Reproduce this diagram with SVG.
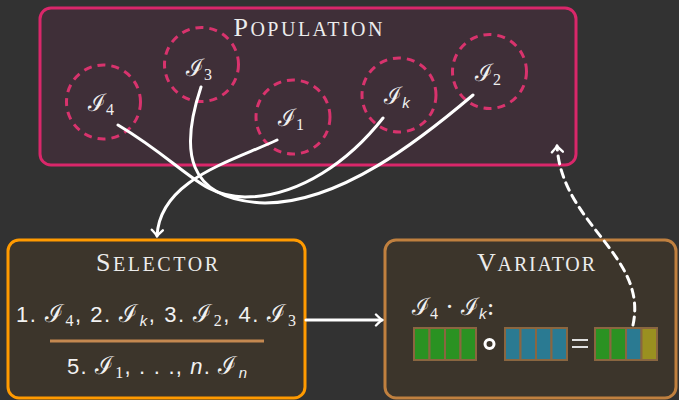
<svg xmlns="http://www.w3.org/2000/svg" width="679" height="400" viewBox="0 0 679 400">
<defs>
<style>
.sc{font-family:"Liberation Serif","DejaVu Serif",serif;fill:#ececec;}
.cal{font-family:"DejaVu Serif","Liberation Serif",serif;font-size:25px;}
.sans{font-family:"Liberation Sans","DejaVu Sans",sans-serif;fill:#f2f2f2;}
.sub{font-family:"Liberation Serif",serif;font-style:normal;}
.subi{font-family:"Liberation Sans",sans-serif;font-style:italic;}
.lbl{font-family:"DejaVu Serif","Liberation Serif",serif;fill:#f0f0f0;font-size:24px;}
.ind{fill:none;stroke:#d8336d;stroke-width:3;stroke-dasharray:8 6;}
.con{fill:none;stroke:#ffffff;stroke-width:3;stroke-linecap:round;}
.cellg{fill:#2a9222;stroke:#8a6640;stroke-width:2;}
.cellb{fill:#2a7a92;stroke:#8a6640;stroke-width:2;}
.cello{fill:#9a9020;stroke:#8a6640;stroke-width:2;}
</style>
<marker id="arr" viewBox="-8 -7 10 14" markerWidth="10" markerHeight="14" refX="0" refY="0" orient="auto" markerUnits="userSpaceOnUse">
<path d="M-6,-5.5 Q-1.5,-1 0,0 Q-1.5,1 -6,5.5" fill="none" stroke="#ffffff" stroke-width="2.4" stroke-linecap="round"/>
</marker>
</defs>
<rect width="679" height="400" fill="#323232"/>

<g id="population">
<rect x="40" y="8" width="536" height="157" rx="11" fill="#3f2f38" stroke="#d9276a" stroke-width="3"/>
<text class="sc" x="308" y="36" text-anchor="middle" textLength="149" lengthAdjust="spacing"><tspan font-size="26">P</tspan><tspan font-size="20">OPULATION</tspan></text>
</g>

<g id="I4"><circle class="ind" cx="103.5" cy="102" r="37"/>
<text class="lbl" x="101" y="111" text-anchor="middle">ℐ<tspan class="sub" font-size="16" baseline-shift="-4">4</tspan></text></g>
<g id="I3"><circle class="ind" cx="201.5" cy="64.5" r="37"/>
<text class="lbl" x="199" y="76" text-anchor="middle">ℐ<tspan class="sub" font-size="16" baseline-shift="-4">3</tspan></text></g>
<g id="I1"><circle class="ind" cx="293" cy="117" r="37"/>
<text class="lbl" x="291" y="126" text-anchor="middle">ℐ<tspan class="sub" font-size="16" baseline-shift="-4">1</tspan></text></g>
<g id="Ik"><circle class="ind" cx="399" cy="95" r="37"/>
<text class="lbl" x="397" y="104" text-anchor="middle">ℐ<tspan class="subi" font-size="15" baseline-shift="-4">k</tspan></text></g>
<g id="I2"><circle class="ind" cx="489.5" cy="71.5" r="37"/>
<text class="lbl" x="488" y="81" text-anchor="middle">ℐ<tspan class="sub" font-size="16" baseline-shift="-4">2</tspan></text></g>

<g id="selector">
<rect x="8" y="240" width="297" height="158" rx="11" fill="#3c352b" stroke="#ff9a00" stroke-width="3"/>
<text class="sc" x="157" y="271" text-anchor="middle" textLength="122" lengthAdjust="spacing"><tspan font-size="26">S</tspan><tspan font-size="20">ELECTOR</tspan></text>
<text class="sans" x="16" y="322" font-size="22" textLength="280" lengthAdjust="spacing">1. <tspan class="cal">ℐ</tspan><tspan class="sub" font-size="16" baseline-shift="-4">4</tspan>, 2. <tspan class="cal">ℐ</tspan><tspan class="subi" font-size="15" baseline-shift="-4">k</tspan>, 3. <tspan class="cal">ℐ</tspan><tspan class="sub" font-size="16" baseline-shift="-4">2</tspan>, 4. <tspan class="cal">ℐ</tspan><tspan class="sub" font-size="16" baseline-shift="-4">3</tspan></text>
<line x1="50" y1="341" x2="264" y2="341" stroke="#c48850" stroke-width="3"/>
<text class="sans" x="67" y="374" font-size="22" textLength="180" lengthAdjust="spacing">5. <tspan class="cal">ℐ</tspan><tspan class="sub" font-size="16" baseline-shift="-4">1</tspan>, . . ., <tspan font-style="italic">n</tspan>. <tspan class="cal">ℐ</tspan><tspan class="subi" font-size="15" baseline-shift="-4">n</tspan></text>
</g>

<g id="variator">
<rect x="385" y="240" width="291" height="158" rx="11" fill="#3c352b" stroke="#c0803f" stroke-width="3"/>
<text class="sc" x="536" y="271" text-anchor="middle" textLength="118" lengthAdjust="spacing"><tspan font-size="26">V</tspan><tspan font-size="20">ARIATOR</tspan></text>
<text class="lbl" x="412" y="315">ℐ<tspan class="sub" font-size="16" baseline-shift="-4">4</tspan> · ℐ<tspan class="subi" font-size="15" baseline-shift="-4">k</tspan>:</text>
<g id="geneA">
<rect class="cellg" x="414" y="328" width="15.5" height="32"/><rect class="cellg" x="429.5" y="328" width="15.5" height="32"/><rect class="cellg" x="445" y="328" width="15.5" height="32"/><rect class="cellg" x="460.5" y="328" width="15.5" height="32"/>
</g>
<circle cx="489.5" cy="344" r="4.5" fill="none" stroke="#ffffff" stroke-width="3"/>
<g id="geneB">
<rect class="cellb" x="505" y="328" width="15.5" height="32"/><rect class="cellb" x="520.5" y="328" width="15.5" height="32"/><rect class="cellb" x="536" y="328" width="15.5" height="32"/><rect class="cellb" x="551.5" y="328" width="15.5" height="32"/>
</g>
<g stroke="#e0e0e0" stroke-width="2"><line x1="572" y1="340" x2="588" y2="340"/><line x1="572" y1="347" x2="588" y2="347"/></g>
<g id="geneC">
<rect class="cellg" x="595" y="328" width="15.5" height="32"/><rect class="cellg" x="610.5" y="328" width="15.5" height="32"/><rect class="cellb" x="626" y="328" width="15.5" height="32"/><rect class="cello" x="641.5" y="328" width="15.5" height="32"/>
</g>
</g>

<g id="connectors">
<path class="con" d="M118,125 C185,165 200,197 245,197 C300,197 350,160 383,118"/>
<path class="con" d="M201,87 C180,150 185,200 265,203 C340,203 420,140 473,95"/>
<path class="con" d="M277,140 C230,162 160,180 157,236" marker-end="url(#arr)"/>
<path class="con" d="M306,320 L382,320" marker-end="url(#arr)"/>
<path class="con" d="M633,325 C648,255 562,225 557,146" stroke-dasharray="8 6" stroke-linecap="butt" marker-end="url(#arr)"/>
</g>
</svg>
